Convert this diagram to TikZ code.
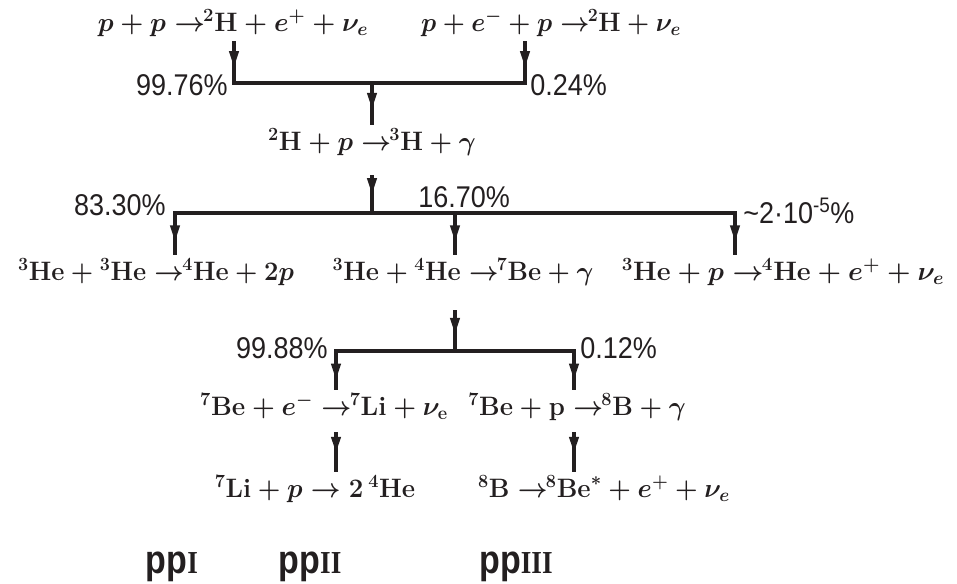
\RequirePackage{fix-cm}
\documentclass[tikz,border=0pt]{standalone}
\usepackage{amsmath}
\usepackage[no-math]{fontspec}
\usepackage{graphicx}
\setsansfont{Liberation Sans}
\newfontfamily\pctfont{Liberation Sans}
\newfontfamily\romfont{Liberation Serif}
\usetikzlibrary{arrows.meta,decorations.markings,calc}
\definecolor{ink}{RGB}{35,31,32}
\newcommand{\rxn}[2][1.0]{\scalebox{#1}[1]{$#2$}}
\newcommand{\ra}{\rightarrow\!\!}
\newcommand{\bt}[1]{\text{\rmfamily\bfseries #1}}
\newcommand{\nuc}[2]{{}^{\bt{#1}}\bt{#2}}
\newcommand{\pcx}[1]{\scalebox{0.9}[1]{#1}}
\newcommand{\romn}[1]{{\fontsize{24pt}{26pt}\selectfont\romfont\bfseries #1}}
\newcommand{\chn}[1]{\scalebox{0.85}[1]{pp\romn{#1}}}
\begin{document}
\begin{tikzpicture}[x=0.75pt,y=-0.75pt,
  rx/.style={font=\fontsize{20pt}{24pt}\selectfont\boldmath, text height=15pt, text depth=3.75pt, inner xsep=0pt, inner ysep=3.75pt, anchor=base, text=ink},
  pct/.style={font=\fontsize{22.5pt}{26pt}\selectfont\pctfont, inner sep=0pt, text=ink},
  pctl/.style={pct, anchor=base east},
  pctr/.style={pct, anchor=base west},
  chain/.style={font=\fontsize{30pt}{34pt}\selectfont\sffamily\bfseries, anchor=base, inner sep=0pt, text=ink},
  bar/.style={draw=ink, line width=2.4pt, line cap=rect},
  flow/.style={draw=ink, line width=2.4pt, decoration={markings, mark=at position #1 with {\arrow{Triangle[length=12pt,width=7pt]}}}, postaction={decorate}}
]
\useasboundingbox (0,0) rectangle (957,583);

% reactions
\node[rx] (T1) at (233,31) {\rxn[0.99]{p+p\ra\nuc{2}{H}+e^{+}+\nu_{e}}};
\node[rx] (T2) at (551,31) {\rxn[0.95]{p+e^{-}+p\ra\nuc{2}{H}+\nu_{e}}};
\node[rx] (T3) at (372,150) {\rxn[0.97]{\nuc{2}{H}+p\ra\nuc{3}{H}+\gamma}};
\node[rx] (R3a) at (156,280) {\rxn[0.96]{\nuc{3}{He}+\nuc{3}{He}\ra\nuc{4}{He}+\bt{2}p}};
\node[rx] (R3b) at (463,280) {\rxn[0.96]{\nuc{3}{He}+\nuc{4}{He}\ra\nuc{7}{Be}+\gamma}};
\node[rx] (R3c) at (783,280) {\rxn[1.01]{\nuc{3}{He}+p\ra\nuc{4}{He}+e^{+}+\nu_{e}}};
\node[rx] (R4a) at (324,415) {\rxn[0.98]{\nuc{7}{Be}+e^{-}\ra\nuc{7}{Li}+\nu_{\bt{e}}}};
\node[rx] (R4b) at (577,415) {\rxn[0.97]{\nuc{7}{Be}+\bt{p}\ra\nuc{8}{B}+\gamma}};
\node[rx] (R5a) at (315,497) {\rxn[0.97]{\nuc{7}{Li}+p\rightarrow \bt{2}\,\nuc{4}{He}}};
\node[rx] (R5b) at (604,497) {\rxn[0.97]{\nuc{8}{B}\ra\nuc{8}{Be}^{*}+e^{+}+\nu_{e}}};

% branching bars
\coordinate (b1l) at (234,83);
\coordinate (b1m) at (372,83);
\coordinate (b1r) at (525,83);
\coordinate (b2l) at (175,213);
\coordinate (b2m) at (372,213);
\coordinate (b2c) at (455,213);
\coordinate (b2r) at (735,213);
\coordinate (b3l) at (336,351);
\coordinate (b3m) at (455,351);
\coordinate (b3r) at (574,351);

\draw[bar] (b1l) -- (b1r);
\draw[bar] (b2l) -- (b2r);
\draw[bar] (b3l) -- (b3r);

% connectors
\draw[flow=0.62] (T1.south -| b1l) -- (b1l);
\draw[flow=0.62] (T2.south -| b1r) -- (b1r);
\draw[flow=0.62] (b1m) -- (T3.north -| b1m);
\draw[flow=0.5] ($(T3.south -| b2m)+(0,15)$) -- (b2m);
\draw[flow=0.68] (b2l) -- (R3a.north -| b2l);
\draw[flow=0.68] (b2c) -- (R3b.north -| b2c);
\draw[flow=0.68] (b2r) -- (R3c.north -| b2r);
\draw[flow=0.58] ($(R3b.south -| b3m)+(0,20)$) -- (b3m);
\draw[flow=0.74] (b3l) -- (R4a.north -| b3l);
\draw[flow=0.74] (b3r) -- (R4b.north -| b3r);
\draw[flow=0.52] ($(R4a.south -| b3l)+(0,7)$) -- (R5a.north -| b3l);
\draw[flow=0.52] ($(R4b.south -| b3r)+(0,7)$) -- (R5b.north -| b3r);

% branching ratios
\node[pctl] (p1) at (228,95) {\pcx{99.76\%}};
\node[pctr] (p2) at (530,95) {\pcx{0.24\%}};
\node[pctl] (p3) at (166,215) {\pcx{83.30\%}};
\node[pctr] (p4) at (418,207) {\pcx{16.70\%}};
\node[pctr] (p5) at (743,223) {\pcx{\textasciitilde 2·10\textsuperscript{-5}\%}};
\node[pctl] (p6) at (328,358) {\pcx{99.88\%}};
\node[pctr] (p7) at (580,358) {\pcx{0.12\%}};

% chain labels
\node[chain] (ppI) at (172,573) {\chn{I}};
\node[chain] (ppII) at (310,573) {\chn{II}};
\node[chain] (ppIII) at (516,573) {\chn{III}};
\end{tikzpicture}
\end{document}
